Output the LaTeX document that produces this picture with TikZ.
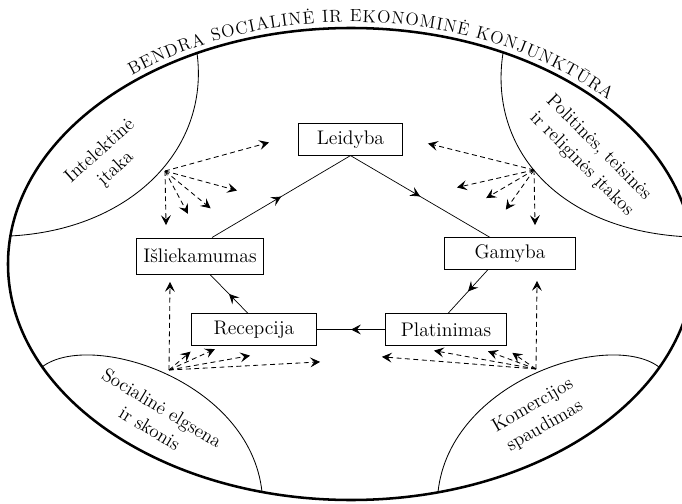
\documentclass[tikz,border=0pt]{standalone}
\usepackage{tikz}
\usetikzlibrary{arrows.meta, positioning, calc, decorations.markings, decorations.text}

\begin{document}
\begin{tikzpicture}[x=0.025cm, y=0.025cm,
  stage/.style={draw, rectangle, line width=0.7pt, font=\fontsize{14}{16}\selectfont, minimum height=0.78cm, inner sep=2pt},
  sphtext/.style={align=center, font=\fontsize{13.5}{17}\selectfont},
  lensline/.style={line width=0.6pt},
  flow/.style={line width=0.5pt, postaction={decorate}, decoration={markings, mark=at position 0.5 with {\arrow{Stealth[length=7pt, width=7pt, inset=2.8pt]}}}},
  infl/.style={line width=0.6pt, dash pattern=on 3.5pt off 2.5pt, -{Stealth[length=7pt, width=7pt, inset=2.8pt]}, shorten >=-1.5pt}]
  \useasboundingbox (0,0) rectangle (682,-504);
  \clip (0,0) rectangle (682,-504);

  % outer frame and its title
  \coordinate (ctr) at (351,-264);
  \draw[line width=1.8pt] (ctr) ellipse [x radius=343, y radius=236];
  \path[decorate, decoration={text along path, text align=fit to path,
      text={|\fontsize{12.5}{14}\selectfont|BENDRA SOCIALINĖ IR EKONOMINĖ KONJUNKTŪRA}}]
    ($(ctr)+(128.9:349 and 242)$) arc[start angle=128.9, end angle=42.6, x radius=349, y radius=242];

  % corner spheres
  \draw[lensline] (197,-53) .. controls (210,-150) and (130,-230) .. (10,-236);
  \draw[lensline] (503,-53) .. controls (488,-150) and (560,-232) .. (691,-237);
  \draw[lensline] (42,-367) .. controls (90,-330) and (250,-380) .. (262,-492);
  \draw[lensline] (659,-367) .. controls (610,-330) and (450,-380) .. (438,-492);

  \node[sphtext, rotate=42] (intel) at (108,-160) {Intelektinė\\įtaka};
  \node[sphtext, rotate=-45] (polit) at (590,-156) {Politinės, teisinės\\ir religinės įtakos};
  \node[sphtext, rotate=-31] (social) at (156,-418) {Socialinė elgsena\\ir skonis};
  \node[sphtext, rotate=30] (komerc) at (539,-416) {Komercijos\\spaudimas};

  % cycle of the book
  \node[stage, minimum width=2.6cm] (leidyba) at (350.5,-139.5) {Leidyba};
  \node[stage, minimum width=3.15cm, minimum height=0.9cm] (islieka) at (200,-256) {Išliekamumas};
  \node[stage, minimum width=3.25cm] (gamyba) at (510,-253.5) {Gamyba};
  \node[stage, minimum width=3.1cm] (recepcija) at (254,-329.5) {Recepcija};
  \node[stage, minimum width=3.0cm] (platinimas) at (446,-329.5) {Platinimas};

  \draw[flow] ($(islieka.north)+(12,0)$) -- (leidyba.south);
  \draw[flow] (leidyba.south) -- ($(gamyba.north)+(-20,0)$);
  \draw[flow] ($(gamyba.south)+(-22,0)$) -- ($(platinimas.north)+(2,0)$);
  \draw[flow] (platinimas.west) -- (recepcija.east);
  \draw[flow] ($(recepcija.north)+(-6,0)$) -- ($(islieka.south)+(10,0)$);

  % influences
  \coordinate (tlsrc) at (165,-171);
  \coordinate (trsrc) at (534,-170);
  \coordinate (blsrc) at (169,-370);
  \coordinate (brsrc) at (536,-369);
  \foreach \tx/\ty [count=\i] in {267/-143, 235/-190, 209/-207, 187/-212, 166/-223} {
    \coordinate (tl-\i) at (\tx,\ty);
    \draw[infl] (tlsrc) -- (tl-\i);
  }
  \foreach \tx/\ty [count=\i] in {430/-144, 459/-187, 488/-197, 507/-208, 535/-223} {
    \coordinate (tr-\i) at (\tx,\ty);
    \draw[infl] (trsrc) -- (tr-\i);
  }
  \foreach \tx/\ty [count=\i] in {170/-284, 189/-353, 213/-350, 248/-356, 318/-362} {
    \coordinate (bl-\i) at (\tx,\ty);
    \draw[infl] (blsrc) -- (bl-\i);
  }
  \foreach \tx/\ty [count=\i] in {537/-283, 514/-354, 490/-352, 436/-351, 384/-357} {
    \coordinate (br-\i) at (\tx,\ty);
    \draw[infl] (brsrc) -- (br-\i);
  }
\end{tikzpicture}
\end{document}
